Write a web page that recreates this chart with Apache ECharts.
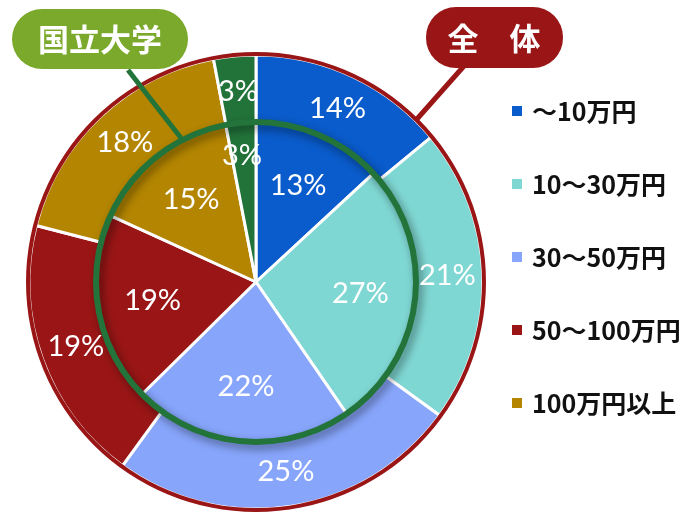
<!DOCTYPE html>
<html>
<head>
<meta charset="utf-8">
<script src="https://cdn.jsdelivr.net/npm/echarts@6/dist/echarts.min.js"></script>
<style>
  html, body { margin: 0; padding: 0; background: #fff; }
  #chart { width: 695px; height: 513px; }
</style>
</head>
<body>
<div id="chart"></div>
<script>
// slices (the last one has no legend entry)
var sliceNames = ['〜10万円', '10〜30万円', '30〜50万円', '50〜100万円', '100万円以上', 'その他'];
var legendNames = sliceNames.slice(0, 5);
var zentaiValues = [14, 21, 25, 19, 18, 3];      // 全体 (outer ring)
var kokuritsuValues = [13, 27, 22, 19, 15, 3];   // 国立大学 (inner pie)

var sliceColors = ['#0a5bcb', '#7fd7d3', '#87a5fb', '#9a1616', '#b38500', '#22733a'];
var pctFont = 'Lato, "Open Sans", sans-serif';
var cjkFont = '"Noto Sans CJK JP", sans-serif';

function toData(values) {
  return values.map(function (v, i) {
    return { name: sliceNames[i], value: v };
  });
}

var chart = echarts.init(document.getElementById('chart'), null, { renderer: 'canvas' });

var center = [256, 282];

var option = {
  animation: false,
  color: sliceColors,
  legend: {
    data: legendNames,
    orient: 'vertical',
    left: 505,
    top: 92,
    icon: 'rect',
    itemWidth: 12,
    itemHeight: 12,
    itemGap: 45,
    selectedMode: false,
    textStyle: {
      fontFamily: cjkFont,
      fontSize: 25,
      fontWeight: 'bold',
      color: '#111',
      lineHeight: 28,
      padding: [0, 0, 0, 4]
    }
  },
  series: [
    { // 全体
      type: 'pie',
      center: center,
      radius: [150, 227],
      startAngle: 90,
      clockwise: true,
      silent: true,
      data: toData(zentaiValues),
      itemStyle: { borderColor: '#fff', borderWidth: 3 },
      label: {
        show: true,
        position: 'inside',
        formatter: '{c}%',
        color: '#fff',
        fontFamily: pctFont,
        fontSize: 29
      },
      labelLine: { show: false }
    },
    { // outer rim
      type: 'pie',
      center: center,
      radius: [226, 230],
      silent: true,
      data: [{ value: 1, itemStyle: { color: '#9a1616' } }],
      label: { show: false },
      labelLine: { show: false }
    },
    { // 国立大学
      type: 'pie',
      center: center,
      radius: [0, 160],
      startAngle: 90,
      clockwise: true,
      silent: true,
      data: toData(kokuritsuValues),
      itemStyle: { borderColor: '#fff', borderWidth: 3 },
      label: { show: false },
      labelLine: { show: false }
    },
    { // inner rim
      type: 'pie',
      center: center,
      radius: [157, 163],
      silent: true,
      data: [{ value: 1, itemStyle: { color: '#23743a', shadowBlur: 8, shadowColor: 'rgba(0,0,0,0.45)', shadowOffsetX: 3, shadowOffsetY: 4 } }],
      label: { show: false },
      labelLine: { show: false }
    },
    { // labels for 国立大学
      type: 'pie',
      center: center,
      radius: [44, 160],
      startAngle: 90,
      clockwise: true,
      silent: true,
      data: toData(kokuritsuValues),
      itemStyle: { color: 'rgba(0,0,0,0)' },
      label: {
        show: true,
        position: 'inside',
        formatter: '{c}%',
        color: '#fff',
        fontFamily: pctFont,
        fontSize: 29
      },
      labelLine: { show: false },
      // the thin last slice keeps its label further out, as in the original
      labelLayout: function (params) {
        if (params.dataIndex === kokuritsuValues.length - 1) {
          return { dx: -4, dy: -22 };
        }
      }
    }
  ],
  graphic: [
    { type: 'line', z: 100, shape: { x1: 128, y1: 70, x2: 181, y2: 138 }, style: { stroke: '#23743a', lineWidth: 5 } },
    { type: 'line', z: 100, shape: { x1: 464, y1: 66, x2: 417, y2: 119 }, style: { stroke: '#9a1616', lineWidth: 5 } },
    { type: 'rect', z: 101, shape: { x: 12, y: 9, width: 176, height: 60, r: 30 }, style: { fill: '#7ba92b' } },
    { type: 'text', z: 102, x: 100, y: 39, style: { text: '国立大学', fill: '#fff', font: 'bold 31px ' + cjkFont, align: 'center', verticalAlign: 'middle' } },
    { type: 'rect', z: 101, shape: { x: 426, y: 7, width: 137, height: 61, r: 30 }, style: { fill: '#9a1616' } },
    { type: 'text', z: 102, x: 494, y: 38, style: { text: '全　体', fill: '#fff', font: 'bold 31px ' + cjkFont, align: 'center', verticalAlign: 'middle' } }
  ]
};

chart.setOption(option);
</script>
</body>
</html>
